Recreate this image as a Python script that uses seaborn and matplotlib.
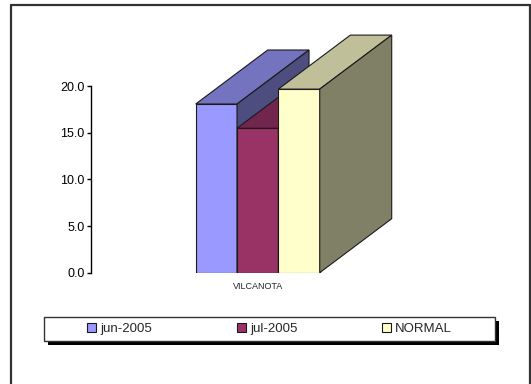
import pandas as pd
import matplotlib.pyplot as plt
import matplotlib.patches as mpatches
import matplotlib.colors as mcolors
from matplotlib.lines import Line2D
import seaborn as sns

# Datos
estaciones = ["VILCANOTA"]
series = ["jun-2005", "jul-2005", "NORMAL"]
valores = [18.1, 15.5, 19.7]
colores = ["#9999FF", "#993366", "#FFFFCC"]
yticks = [0, 5, 10, 15, 20]

df = pd.DataFrame({
    "estacion": estaciones * len(series),
    "serie": series,
    "valor": valores,
})

sns.set_style("white")
plt.rcParams["font.family"] = ["Liberation Sans", "DejaVu Sans"]

W, H = 531, 384
fig = plt.figure(figsize=(W / 100, H / 100), dpi=100, facecolor="white")
ax = fig.add_axes([91 / W, 1 - 272.7 / H, 333.4 / W, 186.4 / H])

sns.barplot(data=df, x="estacion", y="valor", hue="serie", hue_order=series,
            palette=colores, saturation=1, width=0.372,
            edgecolor="#1a1a1a", linewidth=0.8, ax=ax)

ax.set_xlim(-0.5, 0.5)
ax.set_ylim(0, 20)
ax.set_yticks(yticks)
ax.set_yticklabels([f"{v:.1f}" for v in yticks])
ax.set_xlabel("")
ax.set_ylabel("")
ax.set_facecolor("none")
for s in ["top", "right", "bottom"]:
    ax.spines[s].set_visible(False)
ax.spines["left"].set_color("black")
ax.spines["left"].set_linewidth(1)
ax.tick_params(axis="y", direction="out", length=3, width=1, pad=1.5,
               labelsize=9, left=True, colors="black")
ax.tick_params(axis="x", length=0, pad=7, labelsize=6.5)

# Caras 3D (arriba y lateral), a partir de las barras dibujadas
dx, dy = 72, 54  # profundidad en pixeles
to_data = ax.transData.inverted()


def sombra(c, f):
    r, g, b = mcolors.to_rgb(c)
    return (r * f, g * f, b * f)


for i, (cont, col) in enumerate(zip(ax.containers, colores)):
    for rect in cont:
        x0, y0 = rect.get_x(), rect.get_y()
        x1, y1 = x0 + rect.get_width(), y0 + rect.get_height()
        (px0, py0), (px1, py1) = ax.transData.transform([(x0, y0), (x1, y1)])
        arriba = [(px0, py1), (px1, py1), (px1 + dx, py1 + dy), (px0 + dx, py1 + dy)]
        lado = [(px1, py0), (px1, py1), (px1 + dx, py1 + dy), (px1 + dx, py0 + dy)]
        z = 2 + i
        rect.set_zorder(z)
        for pts, f in ((arriba, 0.75), (lado, 0.5)):
            poly = mpatches.Polygon(to_data.transform(pts), closed=True,
                                    facecolor=sombra(col, f), edgecolor="#1a1a1a",
                                    linewidth=0.8, zorder=z, clip_on=False)
            ax.add_patch(poly)

# Leyenda con marco y sombra
leg = ax.get_legend()
handles = leg.legend_handles
labels = [t.get_text() for t in leg.texts]
leg.remove()
for h in handles:
    h.set_edgecolor("#1a1a1a")
    h.set_linewidth(0.8)

lx0, lx1, ly0, ly1 = 44.4, 495, 316.7, 340.7
fig.add_artist(mpatches.Rectangle((lx0 / W + 4 / W, 1 - ly1 / H - 4 / H),
                                  (lx1 - lx0) / W, (ly1 - ly0) / H,
                                  transform=fig.transFigure, facecolor="black",
                                  edgecolor="none", zorder=1))
fig.add_artist(mpatches.Rectangle((lx0 / W, 1 - ly1 / H),
                                  (lx1 - lx0) / W, (ly1 - ly0) / H,
                                  transform=fig.transFigure, facecolor="white",
                                  edgecolor="#333333", linewidth=1, zorder=2))
fig.legend(handles, labels, loc="center", ncol=3, frameon=False,
           bbox_to_anchor=((lx0 + lx1) / 2 / W, 1 - (ly0 + ly1) / 2 / H),
           fontsize=9.5, handlelength=0.68, handleheight=0.68,
           handletextpad=0.3, columnspacing=6.45, borderpad=0)

# Borde exterior del grafico
bx0, bx1, by0 = 11 / W, 529.5 / W, 1 - 4.5 / H
for xs, ys in (([bx0, bx0], [by0, -0.1]), ([bx0, bx1], [by0, by0]), ([bx1, bx1], [by0, -0.1])):
    fig.add_artist(Line2D(xs, ys, transform=fig.transFigure, color="#333333", linewidth=1.6))

plt.savefig("out.png", dpi=100, facecolor="white")
